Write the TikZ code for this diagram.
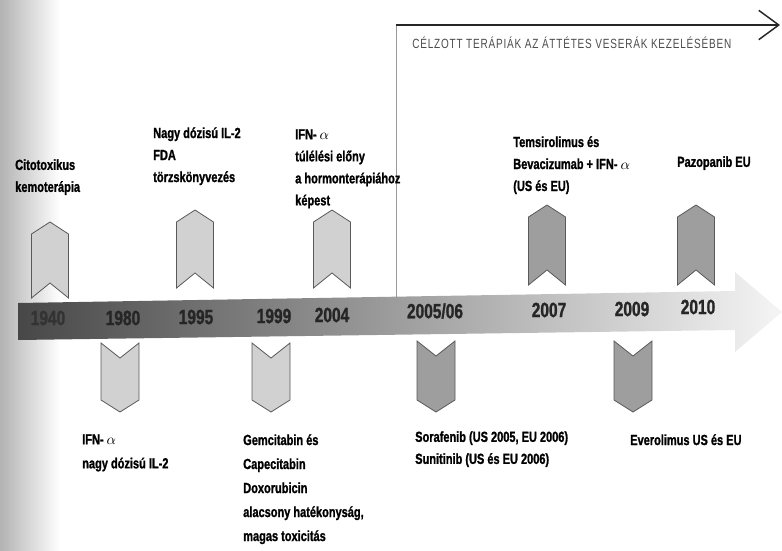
\documentclass[tikz,border=0pt]{standalone}
\usepackage{fontspec}
\setmainfont{Liberation Sans}[FakeStretch=0.75, BoldFeatures={FakeBold=1.2}]
\usepackage{tikz}
\usetikzlibrary{positioning, arrows.meta}
\tikzstyle{note} = [anchor=north west, inner sep=0pt, align=left,
    font=\bfseries\fontsize{11}{16.5}\selectfont]
\tikzstyle{wide} = [font=\bfseries\fontsize{11}{18}\selectfont]
\tikzstyle{year} = [inner sep=0pt, text=black!85,
    font=\bfseries\fontsize{15.5}{16}\selectfont]
\tikzstyle{chev} = [draw=black!65, line width=0.6pt]
\definecolor{chevlight}{gray}{0.82}
\definecolor{chevdark}{gray}{0.62}
% chevron pointing up: cx, top, bottom, fill
\newcommand{\chevup}[4]{\draw[chev, fill=#4] (#1,#2) -- (#1+18.5,#2+12) -- (#1+18.5,#3)
    -- (#1,#3-15) -- (#1-18.5,#3) -- (#1-18.5,#2+12) -- cycle;}
% chevron pointing down: cx, top, bottom, fill
\newcommand{\chevdown}[4]{\draw[chev, fill=#4] (#1-19,#2) -- (#1,#2+15) -- (#1+19,#2)
    -- (#1+19,#3-12) -- (#1,#3) -- (#1-19,#3-12) -- cycle;}

\begin{document}
\begin{tikzpicture}[x=0.75pt, y=-0.75pt]
      \useasboundingbox (0,0) rectangle (782,550);
      % Background and time band
      \shade[left color=black!30, right color=white] (0,0) rectangle (60,550);
      \shade[left color=black!72, right color=black!4] (18,303) -- (735,291) -- (735,272)
          -- (782,312) -- (735,352) -- (735,330) -- (18,340) -- cycle;
      % Years
      \node [year, text=black!80] (y1940) at (48,318) {1940};
      \node [year] (y1980) at (123,318) {1980};
      \node [year] (y1995) at (196,317) {1995};
      \node [year] (y1999) at (274,316) {1999};
      \node [year] (y2004) at (332,315) {2004};
      \node [year] (y2005) at (435,311) {2005/06};
      \node [year] (y2007) at (549,310) {2007};
      \node [year] (y2009) at (632,309) {2009};
      \node [year] (y2010) at (698,307) {2010};
      % Chevrons above
      \chevup{50}{222}{298}{chevlight}
      \chevup{195}{210}{288}{chevlight}
      \chevup{332}{210}{288}{chevlight}
      \chevup{547}{205}{285}{chevdark}
      \chevup{696}{205}{285}{chevdark}
      % Chevrons below
      \chevdown{120}{343}{412}{chevlight}
      \chevdown{271}{343}{412}{chevlight}
      \chevdown{436}{341}{412}{chevdark}
      \chevdown{633}{341}{412}{chevdark}
      % Targeted therapies bracket
      \coordinate (brkfoot) at (396,300);
      \coordinate (brkcorner) at (396,25);
      \coordinate (brkend) at (780,25);
      \draw[black!40, line width=0.5pt] (brkfoot) -- (brkcorner);
      \draw[black!85, line width=1.1pt, -{Straight Barb[length=15pt,width=22pt]}] (brkcorner) -- (brkend);
      \node [anchor=west, inner sep=0pt, text=black!70,
          font=\addfontfeatures{LetterSpace=6}\fontsize{10}{10}\selectfont] (title)
          at (412,43) {CÉLZOTT TERÁPIÁK AZ ÁTTÉTES VESERÁK KEZELÉSÉBEN};
      % Notes above
      \node [note] (cito) at (15,159) {Citotoxikus\\kemoterápia};
      \node [note] (nagyil) at (153,127) {Nagy dózisú IL-2\\FDA\\törzskönyvezés};
      \node [note] (ifnsurv) at (295,129) {IFN- $\alpha$\\túlélési előny\\a hormonterápiához\\képest};
      \node [note] (temsir) at (513,136) {Temsirolimus és\\Bevacizumab + IFN- $\alpha$\\(US és EU)};
      \node [note] (pazop) at (677,156) {Pazopanib EU};
      % Notes below
      \node [note, wide] (ifnil) at (82,434) {IFN- $\alpha$\\nagy dózisú IL-2};
      \node [note, wide] (gemcit) at (243,434) {Gemcitabin és\\Capecitabin\\Doxorubicin\\alacsony hatékonyság,\\magas toxicitás};
      \node [note] (soraf) at (415,431) {Sorafenib (US 2005, EU 2006)\\Sunitinib (US és EU 2006)};
      \node [note] (everol) at (630,434) {Everolimus US és EU};
  \end{tikzpicture}
\end{document}
